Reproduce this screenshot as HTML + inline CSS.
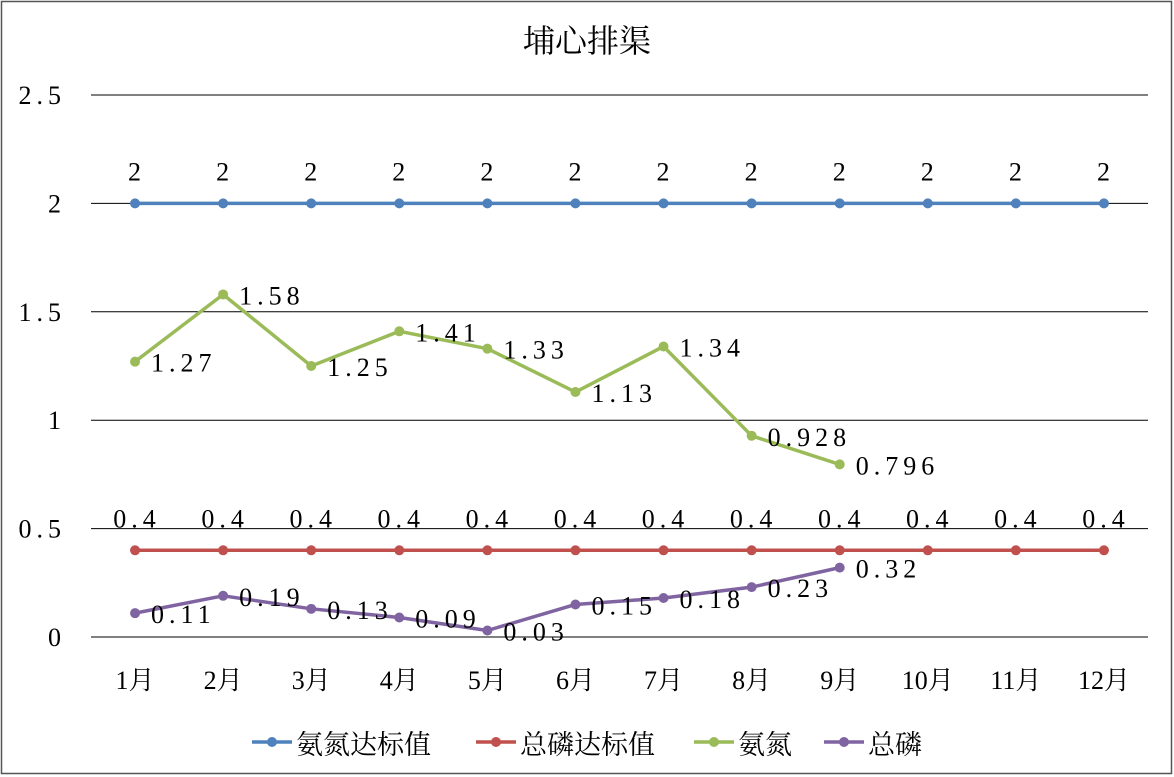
<!DOCTYPE html>
<html><head><meta charset="utf-8"><style>
html,body{margin:0;padding:0;background:#fff;}
svg{display:block;font-family:"Liberation Serif","Noto Serif CJK SC",serif;}
</style></head><body>
<svg id="chart" width="1174" height="777" viewBox="0 0 1174 777">
<rect x="1.5" y="1.5" width="1170" height="772" fill="#fff" stroke="#555" stroke-width="1.5"/>
<text x="587" y="52" text-anchor="middle" font-size="32" font-family="'Noto Serif CJK SC',serif">埔心排渠</text>
<g id="grid"></g><g id="series"></g><g id="legend"></g>
</svg>
<script>
const categories=['1月','2月','3月','4月','5月','6月','7月','8月','9月','10月','11月','12月'];
const ammoniaStd=[2,2,2,2,2,2,2,2,2,2,2,2];
const phosStd=[0.4,0.4,0.4,0.4,0.4,0.4,0.4,0.4,0.4,0.4,0.4,0.4];
const ammonia=[1.27,1.58,1.25,1.41,1.33,1.13,1.34,0.928,0.796];
const phos=[0.11,0.19,0.13,0.09,0.03,0.15,0.18,0.23,0.32];
const yTicks=[0,0.5,1,1.5,2,2.5];
const yTickLabels=['0','0.5','1','1.5','2','2.5'];
const NS='http://www.w3.org/2000/svg';
const L=91,R=1148,T=95,B=637,yMax=2.5;
const step=(R-L)/categories.length;
const xs=i=>L+step*(i+0.5);
const ys=v=>B-(v/yMax)*(B-T);
function mk(tag,attrs,parent,text){const e=document.createElementNS(NS,tag);for(const k in attrs)e.setAttribute(k,attrs[k]);if(text!==undefined)e.textContent=text;parent.appendChild(e);return e;}
const grid=document.getElementById('grid');
yTicks.forEach((t,i)=>{
 const l=mk('line',{x1:L,x2:R,y1:ys(t),y2:ys(t),stroke:'#000','stroke-width':1},grid);
 
 
 const tx=mk('text',{x:66,y:ys(t)+9,'text-anchor':'end','font-size':26,'letter-spacing':'5'},grid,yTickLabels[i]);
 
 
});
categories.forEach((c,i)=>{
 const tx=mk('text',{x:xs(i),y:689,'text-anchor':'middle','font-size':26},grid,c);
 
 
});
const sg=document.getElementById('series');
const series=[
 {name:'氨氮达标值',data:ammoniaStd,color:'#4F81BD',pos:'above'},
 {name:'总磷达标值',data:phosStd,color:'#C0504D',pos:'above'},
 {name:'氨氮',data:ammonia,color:'#9BBB59',pos:'right'},
 {name:'总磷',data:phos,color:'#8064A2',pos:'right'}];
series.forEach(s=>{
 const g=mk('g',{},sg);
 
 
 const pts=s.data.map((v,i)=>xs(i)+','+ys(v)).join(' ');
 const pl=mk('polyline',{points:pts,fill:'none',stroke:s.color,'stroke-width':3.5,'stroke-linejoin':'round'},g);
 
 
 s.data.forEach((v,i)=>{
  const c=mk('circle',{cx:xs(i),cy:ys(v),r:5,fill:s.color},g);
  
  
  const t=s.pos==='above'?mk('text',{x:xs(i)+2,y:ys(v)-23,'text-anchor':'middle','font-size':26,'letter-spacing':'5'},g,String(v))
   :mk('text',{x:xs(i)+16,y:ys(v)+10,'font-size':26,'letter-spacing':'5'},g,String(v));
  
  
 });
});
const lg=document.getElementById('legend');
const lx=[252,476,694,824];
series.forEach((s,i)=>{
 const g=mk('g',{},lg);
 
 
 mk('line',{x1:lx[i],x2:lx[i]+40,y1:742,y2:742,stroke:s.color,'stroke-width':3.5},g);
 mk('circle',{cx:lx[i]+20,cy:742,r:5,fill:s.color},g);
 mk('text',{x:lx[i]+44,y:754,'font-size':27,'font-family':"'Noto Serif CJK SC',serif"},g,s.name);
});
</script>
</body></html>
